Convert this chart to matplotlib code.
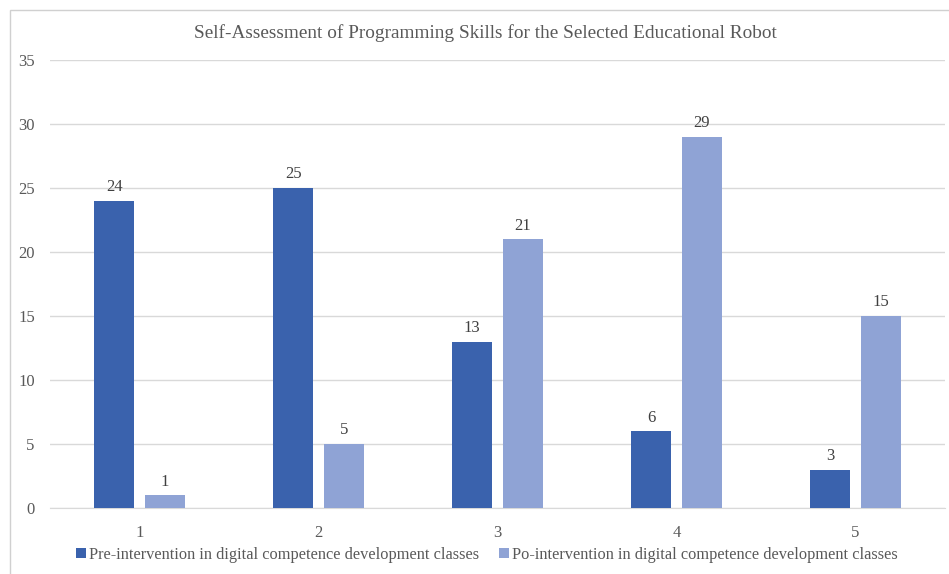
import numpy as np
import matplotlib
matplotlib.use("Agg")
import matplotlib.pyplot as plt
from matplotlib.patches import Rectangle

categories = ["1", "2", "3", "4", "5"]
pre_values = [24, 25, 13, 6, 3]
post_values = [1, 5, 21, 29, 15]
pre_label = "Pre-intervention in digital competence development classes"
post_label = "Po-intervention in digital competence development classes"
title = "Self-Assessment of Programming Skills for the Selected Educational Robot"

plt.rcParams["font.family"] = ["Liberation Serif", "DejaVu Serif"]
text_color = "#595959"
grid_color = "#D9D9D9"
pre_color = "#3A62AD"
post_color = "#8FA3D5"

fig = plt.figure(figsize=(9.49, 5.74), dpi=100)
ax = fig.add_axes([0.0527, 0.115, 0.9431, 0.7805])

# outer chart border
fig.patches.append(Rectangle((10 / 949, -0.1), 1.2, 1 - 10 / 574 + 0.1,
                             transform=fig.transFigure, fill=False,
                             edgecolor="#D0D0D0", linewidth=1.0))

x = np.arange(len(categories))
width = 0.224
offset = 0.142
bars_pre = ax.bar(x - offset, pre_values, width, color=pre_color, label=pre_label, zorder=3)
bars_post = ax.bar(x + offset, post_values, width, color=post_color, label=post_label, zorder=3)

for bars in (bars_pre, bars_post):
    ax.bar_label(bars, padding=4, fontsize=12, color="#404040")

ax.set_xlim(-0.5, len(categories) - 0.5)
ax.set_ylim(0, 35)
ax.set_yticks(range(0, 36, 5))
ax.set_xticks(x)
ax.set_xticklabels(categories)
ax.tick_params(axis="both", length=0, labelsize=12, labelcolor=text_color)
ax.tick_params(axis="y", pad=11)
ax.tick_params(axis="x", pad=12)
ax.grid(axis="y", color=grid_color, linewidth=1, zorder=0)
for side in ("top", "right", "left"):
    ax.spines[side].set_visible(False)
ax.spines["bottom"].set_color(grid_color)

fig.text(0.511, 1 - 33 / 574, title, ha="center", va="center", fontsize=13.9, color=text_color)

fig.legend(loc="center", bbox_to_anchor=(0.513, 1 - 555 / 574), ncol=2, frameon=False,
           fontsize=11.8, labelcolor=text_color, handlelength=0.6, handleheight=0.6,
           handletextpad=0.2, columnspacing=1.2)

fig.savefig("out.png", dpi=100, facecolor="white")
